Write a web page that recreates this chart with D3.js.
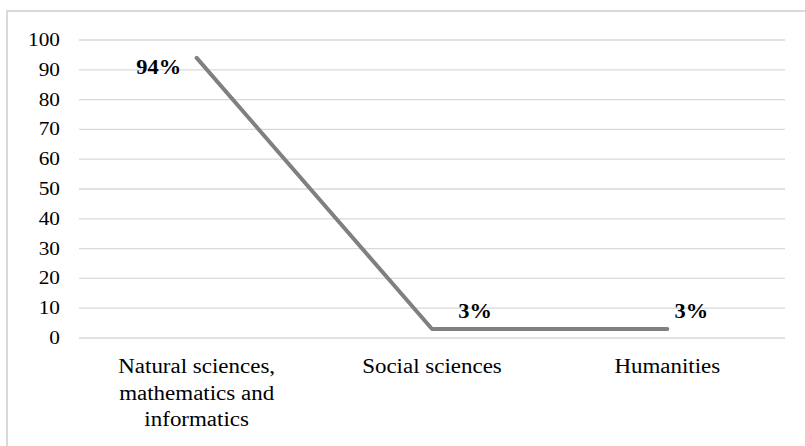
<!DOCTYPE html>
<html>
<head>
<meta charset="utf-8">
<script src="https://cdn.jsdelivr.net/npm/d3@7"></script>
<style>
  html, body { margin: 0; padding: 0; background: #fff; }
  svg { display: block; }
</style>
</head>
<body>
<svg id="chart" width="805" height="446"></svg>
<script>
// Share of publications by field
const categories = [
  ["Natural sciences,", "mathematics and", "informatics"],
  ["Social sciences"],
  ["Humanities"]
];
const values = [94, 3, 3];
const valueLabels = ["94%", "3%", "3%"];
const yTicks = [0, 10, 20, 30, 40, 50, 60, 70, 80, 90, 100];
// label offsets relative to each point (dx, dy)
const labelOffsets = [[-38, 16], [43, -11], [24, -11]];

const W = 805, H = 446;
const margin = { left: 79, right: 20, top: 40, bottom: 108 };
const FONT = "'Liberation Serif'";
const stretch = 1.12; // widen glyphs a little

const svg = d3.select("#chart");

// widen text horizontally while keeping its anchor
function widen(sel) {
  sel.each(function () {
    const w = this.getComputedTextLength();
    d3.select(this)
      .attr("textLength", w * stretch)
      .attr("lengthAdjust", "spacingAndGlyphs");
  });
}

// outer frame (top and left edges)
svg.append("path")
  .attr("d", `M7,${H} L7,11 L${W},11`)
  .attr("fill", "none")
  .attr("stroke", "#d9d9d9")
  .attr("stroke-width", 2);

const x = d3.scaleBand()
  .domain(d3.range(categories.length))
  .range([margin.left, W - margin.right])
  .padding(0);

const y = d3.scaleLinear()
  .domain([0, 100])
  .range([H - margin.bottom, margin.top]);

// gridlines
svg.append("g")
  .selectAll("line")
  .data(yTicks)
  .join("line")
  .attr("x1", margin.left)
  .attr("x2", W - margin.right)
  .attr("y1", d => y(d))
  .attr("y2", d => y(d))
  .attr("stroke", "#d9d9d9")
  .attr("stroke-width", 1.3);

// y tick labels
svg.append("g")
  .selectAll("text")
  .data(yTicks)
  .join("text")
  .attr("x", 60)
  .attr("y", d => y(d) + 6)
  .attr("text-anchor", "end")
  .attr("font-family", FONT)
  .attr("font-size", 19)
  .attr("fill", "#000")
  .text(d => d)
  .call(widen);

// category labels, one text per line
const catLines = categories.flatMap((lines, i) =>
  lines.map((t, j) => ({ t, i, j })));
svg.append("g")
  .selectAll("text")
  .data(catLines)
  .join("text")
  .attr("x", d => x(d.i) + x.bandwidth() / 2)
  .attr("y", d => 373 + d.j * 26.5)
  .attr("text-anchor", "middle")
  .attr("font-family", FONT)
  .attr("font-size", 20.5)
  .attr("fill", "#000")
  .text(d => d.t)
  .call(widen);

// line
const line = d3.line()
  .x((d, i) => x(i) + x.bandwidth() / 2)
  .y(d => y(d));

svg.append("path")
  .datum(values)
  .attr("d", line)
  .attr("fill", "none")
  .attr("stroke", "#808080")
  .attr("stroke-width", 4)
  .attr("stroke-linejoin", "round")
  .attr("stroke-linecap", "round");

// value labels
svg.append("g")
  .selectAll("text")
  .data(values)
  .join("text")
  .attr("x", (d, i) => x(i) + x.bandwidth() / 2 + labelOffsets[i][0])
  .attr("y", (d, i) => y(d) + labelOffsets[i][1])
  .attr("text-anchor", "middle")
  .attr("font-family", FONT)
  .attr("font-size", 20)
  .attr("font-weight", "bold")
  .attr("fill", "#000")
  .text((d, i) => valueLabels[i])
  .call(widen);
</script>
</body>
</html>
